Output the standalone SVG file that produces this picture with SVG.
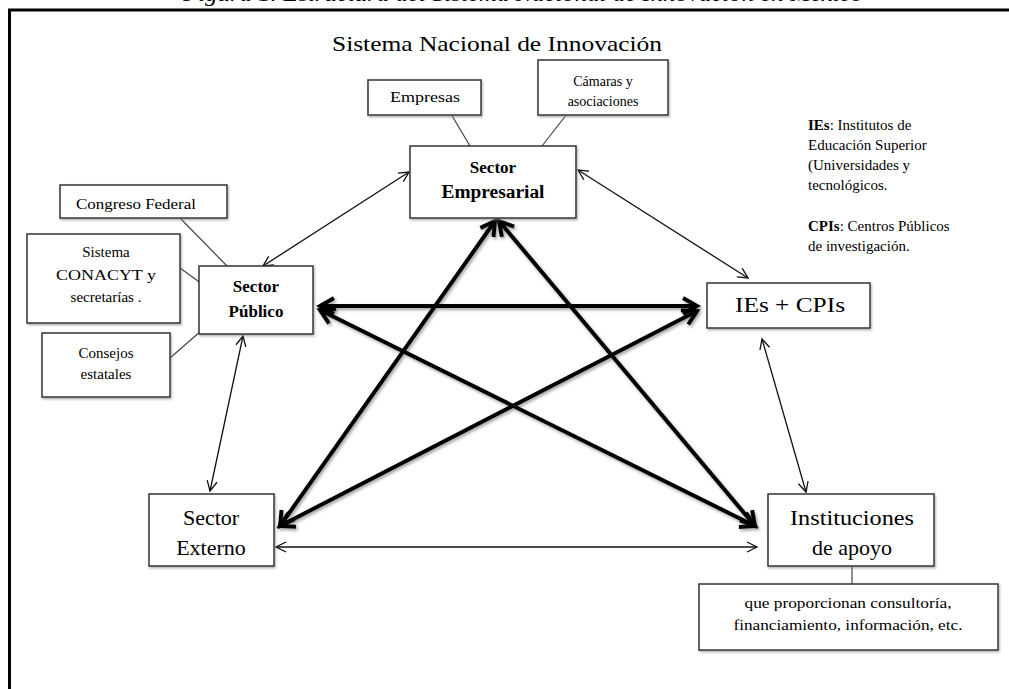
<svg xmlns="http://www.w3.org/2000/svg" width="1009" height="689" viewBox="0 0 1009 689">
<style>
text{font-family:"Liberation Serif","Times New Roman",serif;fill:#000}
.box{fill:#fff;stroke:#333;stroke-width:1.5;filter:url(#bs)}
.thin{stroke:#111;stroke-width:1.3;fill:none;marker-start:url(#ah);marker-end:url(#ah)}
.thick{stroke:#000;stroke-width:4;fill:none;marker-start:url(#ahT);marker-end:url(#ahT)}
.plain{stroke:#444;stroke-width:1.2;fill:none}
.t13{font-size:14px}
.t15{font-size:15px}
.b{font-weight:bold}
</style>
<defs>
<filter id="bs" x="-10%" y="-10%" width="120%" height="130%"><feDropShadow dx="1" dy="1.5" stdDeviation="0.8" flood-color="#888" flood-opacity="0.7"/></filter>
<filter id="ts" x="-10%" y="-10%" width="120%" height="120%"><feDropShadow dx="1.5" dy="2" stdDeviation="1.6" flood-color="#555" flood-opacity="0.55"/></filter>
<marker id="ah" viewBox="-12 -7 15 14" refX="0" refY="0" markerWidth="15" markerHeight="14" markerUnits="userSpaceOnUse" orient="auto-start-reverse"><path d="M-10,-5 L0,0 L-10,5" fill="none" stroke="#111" stroke-width="1.3"/></marker>
<marker id="ahT" viewBox="-18 -11 24 22" refX="0" refY="0" markerWidth="24" markerHeight="22" markerUnits="userSpaceOnUse" orient="auto-start-reverse"><path d="M-14,-8 L0,0 L-14,8" fill="none" stroke="#000" stroke-width="4"/></marker>
</defs>
<rect width="1009" height="689" fill="#fff"/>
<text x="183" y="1" font-size="20" font-style="italic" textLength="680" lengthAdjust="spacingAndGlyphs">Figura 1. Estructura del Sistema Nacional de Innovación en México</text>
<path d="M9.5,689 V10 H1009" fill="none" stroke="#000" stroke-width="3"/>
<text x="497" y="51" font-size="21" text-anchor="middle" textLength="330" lengthAdjust="spacingAndGlyphs">Sistema Nacional de Innovación</text>

<g id="connectors">
<line class="plain" x1="451" y1="114" x2="470" y2="146"/>
<line class="plain" x1="567" y1="114" x2="542" y2="146"/>
<line class="plain" x1="180" y1="218" x2="227" y2="266"/>
<line class="plain" x1="180" y1="268" x2="209" y2="289"/>
<line class="plain" x1="170" y1="358" x2="209" y2="324"/>
<line class="plain" x1="852" y1="566" x2="852" y2="584"/>
<line class="thin" x1="263" y1="266" x2="409" y2="172"/>
<line class="thin" x1="578" y1="170" x2="748" y2="278"/>
<line class="thin" x1="243" y1="336" x2="210" y2="491"/>
<line class="thin" x1="762" y1="339" x2="806" y2="492"/>
<line class="thin" x1="276" y1="547" x2="757" y2="547"/>
<g filter="url(#ts)">
<line class="thick" x1="320" y1="306" x2="697" y2="306"/>
<line class="thick" x1="320" y1="310" x2="755" y2="526"/>
<line class="thick" x1="495" y1="221" x2="280" y2="526"/>
<line class="thick" x1="499" y1="221" x2="755" y2="526"/>
<line class="thick" x1="697" y1="311" x2="280" y2="526"/>
</g>
</g>

<g id="empresas"><rect class="box" x="368" y="80" width="113" height="35"/><text class="t13" x="425" y="102" text-anchor="middle" textLength="70" lengthAdjust="spacingAndGlyphs">Empresas</text></g>
<g id="camaras"><rect class="box" x="538" y="60" width="130" height="55"/><text class="t13" x="603" y="86" text-anchor="middle">Cámaras y</text><text class="t13" x="603" y="106" text-anchor="middle">asociaciones</text></g>
<g id="sector-empresarial"><rect class="box" x="410" y="146" width="166" height="72"/><text class="b" font-size="17" x="493" y="173" text-anchor="middle">Sector</text><text class="b" font-size="18" x="493" y="198" text-anchor="middle" textLength="103" lengthAdjust="spacingAndGlyphs">Empresarial</text></g>
<g id="congreso"><rect class="box" x="60" y="185" width="167" height="33"/><text class="t15" x="136" y="209" text-anchor="middle" textLength="120" lengthAdjust="spacingAndGlyphs">Congreso Federal</text></g>
<g id="conacyt"><rect class="box" x="27" y="234" width="153" height="89"/><text class="t15" x="106" y="257" text-anchor="middle">Sistema</text><text class="t15" x="106" y="280" text-anchor="middle" textLength="100" lengthAdjust="spacingAndGlyphs">CONACYT y</text><text class="t15" x="106" y="302" text-anchor="middle">secretarías .</text></g>
<g id="consejos"><rect class="box" x="42" y="333" width="128" height="64"/><text class="t15" x="106" y="358" text-anchor="middle">Consejos</text><text class="t15" x="106" y="379" text-anchor="middle">estatales</text></g>
<g id="sector-publico"><rect class="box" x="199" y="266" width="114" height="68"/><text class="b" font-size="17" x="256" y="292" text-anchor="middle">Sector</text><text class="b" font-size="17" x="256" y="317" text-anchor="middle">Público</text></g>
<g id="ies-cpis"><rect class="box" x="707" y="283" width="163" height="45"/><text font-size="22" x="790" y="312" text-anchor="middle" textLength="110" lengthAdjust="spacingAndGlyphs">IEs + CPIs</text></g>
<g id="leyenda">
<text class="t15" x="808" y="130"><tspan class="b">IEs</tspan>: Institutos de</text>
<text class="t15" x="808" y="150">Educación Superior</text>
<text class="t15" x="808" y="170">(Universidades y</text>
<text class="t15" x="808" y="190">tecnológicos.</text>
<text class="t15" x="808" y="231"><tspan class="b">CPIs</tspan>: Centros Públicos</text>
<text class="t15" x="808" y="251">de investigación.</text>
</g>
<g id="sector-externo"><rect class="box" x="149" y="494" width="125" height="72"/><text font-size="22" x="211" y="525" text-anchor="middle">Sector</text><text font-size="22" x="211" y="555" text-anchor="middle">Externo</text></g>
<g id="instituciones"><rect class="box" x="768" y="494" width="166" height="72"/><text font-size="22" x="852" y="525" text-anchor="middle" textLength="124" lengthAdjust="spacingAndGlyphs">Instituciones</text><text font-size="22" x="852" y="555" text-anchor="middle">de apoyo</text></g>
<g id="apoyo-detalle"><rect class="box" x="699" y="584" width="299" height="66"/><text class="t13" x="848" y="608" text-anchor="middle" textLength="207" lengthAdjust="spacingAndGlyphs">que proporcionan consultoría,</text><text class="t13" x="848" y="630" text-anchor="middle" textLength="229" lengthAdjust="spacingAndGlyphs">financiamiento, información, etc.</text></g>
</svg>
